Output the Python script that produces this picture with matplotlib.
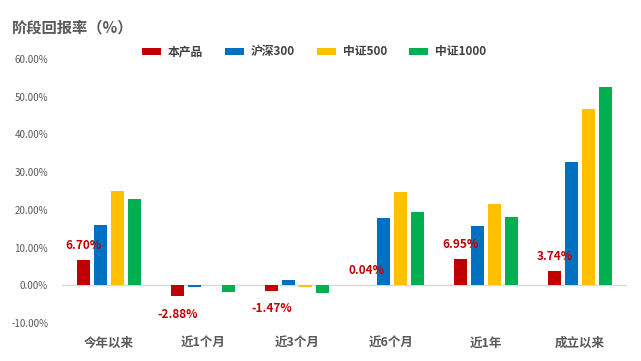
import matplotlib
matplotlib.use("Agg")
import matplotlib.pyplot as plt
from matplotlib.patches import Patch
import numpy as np

plt.rcParams['font.family'] = ['Noto Sans CJK SC', 'DejaVu Sans']

categories = ['今年以来', '近1个月', '近3个月', '近6个月', '近1年', '成立以来']
series_names = ['本产品', '沪深300', '中证500', '中证1000']
product = [6.70, -2.88, -1.47, 0.04, 6.95, 3.74]
hs300 = [16.0, -0.45, 1.4, 17.8, 15.7, 32.7]
zz500 = [25.0, -0.05, -0.4, 24.7, 21.5, 46.8]
zz1000 = [22.9, -1.8, -2.1, 19.4, 18.1, 52.7]
yticks = [-10, 0, 10, 20, 30, 40, 50, 60]
colors = ['#C00000', '#0070C0', '#FFC000', '#00B050']

W, H = 641, 361
fig = plt.figure(figsize=(W / 100, H / 100), dpi=100)
ax = fig.add_axes([62 / W, 1 - 323 / H, (627 - 62) / W, (323 - 59) / H])

x = np.arange(len(categories))
bw = 0.138
pitch = 0.18
all_series = [product, hs300, zz500, zz1000]
for i, (vals, c) in enumerate(zip(all_series, colors)):
    off = (i - 1.5) * pitch
    ax.bar(x + off, vals, width=bw, color=c, zorder=3)

# data labels for product
for xi, v in zip(x, product):
    xpos = xi - 1.5 * pitch
    dy = 15 if v >= 0 else -18
    ax.annotate(f'{v:.2f}%', (xpos, v), xytext=(0, dy), textcoords='offset pixels',
                ha='center', va='center', color='#C00000', fontsize=8.5, fontweight='bold')

ax.set_xlim(-0.5, len(categories) - 0.5)
ax.set_ylim(-10, 60)
ax.set_yticks(yticks)
ax.set_yticklabels([f'{t:.2f}%' for t in yticks], color='#595959', fontsize=7)
ax.set_xticks(x)
ax.set_xticklabels(categories, color='#595959', fontsize=9, fontweight='bold')
ax.tick_params(axis='both', length=0)
ax.tick_params(axis='y', pad=10)
ax.tick_params(axis='x', pad=10)
for s in ax.spines.values():
    s.set_visible(False)
ax.axhline(0, color='#D9D9D9', lw=1, zorder=2)

fig.text(12 / W, 1 - 27 / H, '阶段回报率（%）', fontsize=11, fontweight='bold',
         color='#595959', ha='left', va='center')

handles = [Patch(facecolor=c, edgecolor='none') for c in colors]
leg = fig.legend(handles, series_names, loc='center', bbox_to_anchor=(314 / W, 1 - 52 / H),
                 ncol=4, frameon=False, handlelength=1.55, handleheight=0.6,
                 columnspacing=1.9, handletextpad=0.6,
                 prop={'size': 8.5, 'weight': 'bold'})
for t in leg.get_texts():
    t.set_color('#404040')

fig.savefig('out.png', dpi=100, facecolor='white')
